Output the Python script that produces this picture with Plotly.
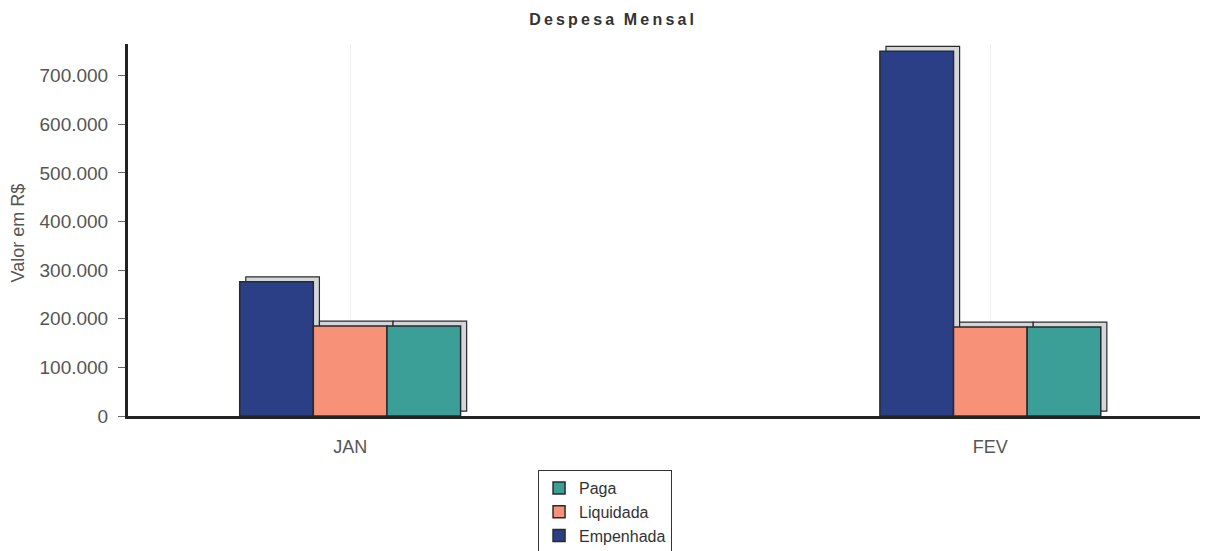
import plotly.graph_objects as go

meses = ["JAN", "FEV"]
series = ["Empenhada", "Liquidada", "Paga"]
empenhada = [276000, 750000]
liquidada = [185000, 183000]
paga = [185000, 183000]
cores = {"Empenhada": "#2b3f86", "Liquidada": "#f79279", "Paga": "#3b9f98"}
valores = {"Empenhada": empenhada, "Liquidada": liquidada, "Paga": paga}

w = 0.115
dx = 0.0095
dy = 10000
outline = "#2a2a2a"

fig = go.Figure()
# 3D depth faces (drawn first)
for i, s in enumerate(series):
    off = (i - 1.5) * w
    fig.add_trace(go.Bar(
        x=meses, y=valores[s], base=dy, offset=off + dx, width=w,
        marker=dict(color="#d3d7dc", line=dict(color=outline, width=1.2)),
        showlegend=False, hoverinfo="skip"))
# front faces
for i, s in enumerate(series):
    off = (i - 1.5) * w
    fig.add_trace(go.Bar(
        x=meses, y=valores[s], offset=off, width=w, name=s,
        marker=dict(color=cores[s], line=dict(color=outline, width=1.5))))

titulo = "\u2009".join("Despesa") + "\u2009\u2009\u2009" + "\u2009".join("Mensal")

fig.add_annotation(text="Valor em R$", xref="paper", yref="paper", x=-0.1023, y=0.492,
                   textangle=-90, showarrow=False, xanchor="center", yanchor="middle",
                   font=dict(size=18, color="#555555"))

fig.update_layout(
    width=1200, height=543,
    barmode="overlay",
    separators=",.",
    paper_bgcolor="white", plot_bgcolor="white",
    font=dict(family="Liberation Sans, Arial, sans-serif", color="#555555", size=18),
    margin=dict(l=120, r=0, t=36, b=135, autoexpand=False),
    title=dict(text="<b>" + titulo + "</b>", x=0.503, xanchor="center",
               y=0.99, yanchor="top", font=dict(size=16, color="#333333")),
    legend=dict(traceorder="reversed", xref="container", yref="container",
                x=0.4417, xanchor="left", y=0.149, yanchor="top",
                bordercolor="#333333", borderwidth=1, bgcolor="white",
                font=dict(size=16, color="#333333"), itemwidth=30,
                tracegroupgap=0),
    xaxis=dict(range=[-0.347, 1.34], showline=True, linecolor="#222222", linewidth=3,
               showgrid=True, gridcolor="#eeeeee", ticks="", ticklabelstandoff=12,
               tickfont=dict(size=18, color="#555555"), automargin=False),
    yaxis=dict(range=[0, 765000], showline=True, linecolor="#222222", linewidth=3,
               tickformat=",d", dtick=100000, ticks="outside", ticklen=7,
               tickcolor="#666666", showgrid=False, zeroline=False, automargin=False,
               ticklabelstandoff=6,
               tickfont=dict(size=19, color="#555555")),
)

fig.write_html("out.html")
